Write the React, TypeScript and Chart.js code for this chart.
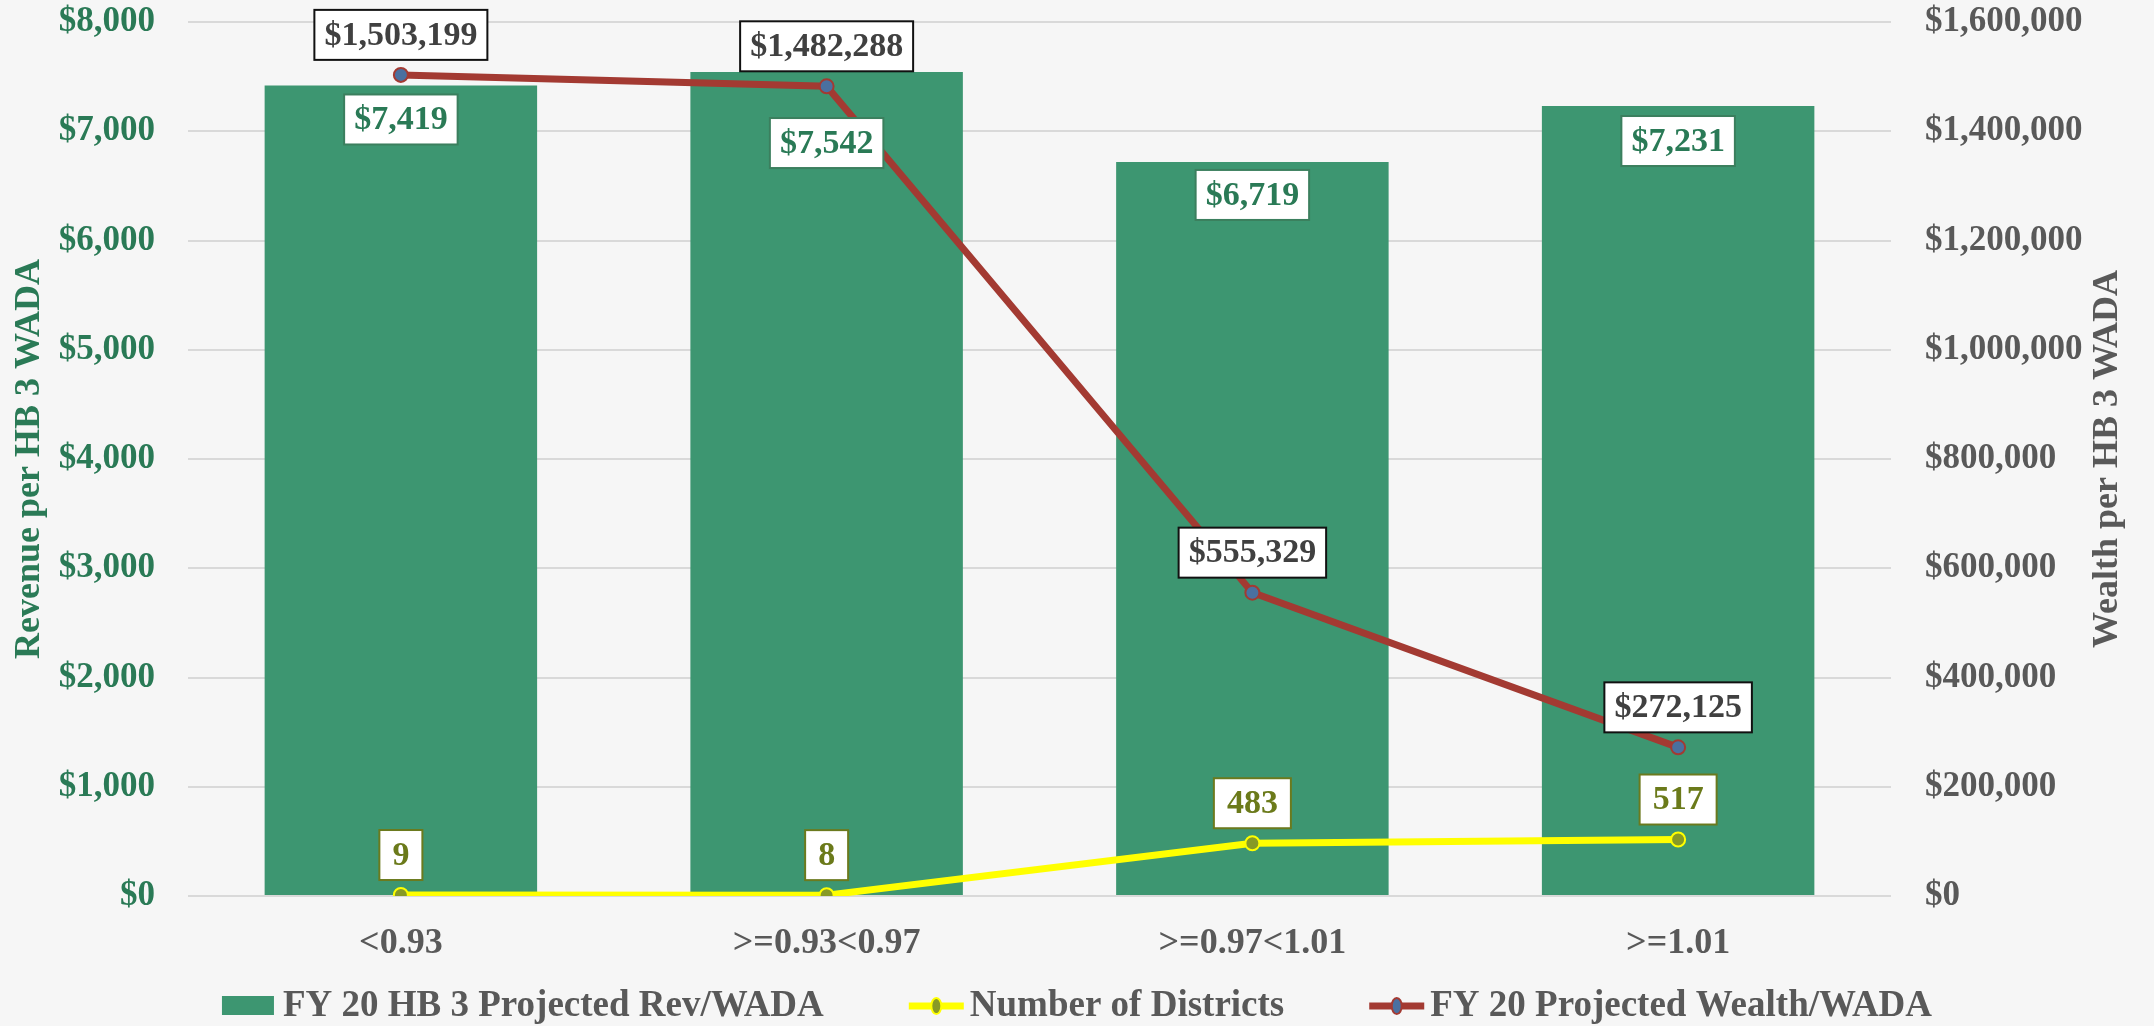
import React, { useEffect, useRef } from "react";
import { Chart, registerables } from "chart.js";

Chart.register(...registerables);

const categories = ["<0.93", ">=0.93<0.97", ">=0.97<1.01", ">=1.01"];
const revenuePerWada = [7419, 7542, 6719, 7231];
const numberOfDistricts = [9, 8, 483, 517];
const wealthPerWada = [1503199, 1482288, 555329, 272125];

const revenueLabel = "FY 20 HB 3 Projected Rev/WADA";
const districtsLabel = "Number of Districts";
const wealthLabel = "FY 20 Projected Wealth/WADA";
const leftTitle = "Revenue per HB 3 WADA";
const rightTitle = "Wealth per HB 3 WADA";

const W = 2154;
const H = 1026;
const FONT = "'Liberation Serif', 'Times New Roman', serif";
const GREEN_TEXT = "#2A7A56";
const GRAY_TEXT = "#595959";
const BAR_COLOR = "#3D9671";
const RED = "#A33A32";
const BLUE = "#4A70A0";
const YELLOW = "#FFFF00";
const OLIVE = "#879A26";
const BG = "#F6F6F6";
const BAR_LABEL_DROP = [34, 71, 33, 35];

const money = (v: number) => "$" + v.toLocaleString("en-US");

function drawBox(ctx: CanvasRenderingContext2D, text: string, cx: number, cy: number, pad: number, textColor: string, border: string) {
  ctx.save();
  ctx.font = `bold 34px ${FONT}`;
  const tw = ctx.measureText(text).width;
  const bw = tw + pad * 2;
  const bh = 50;
  ctx.fillStyle = "#FFFFFF";
  ctx.fillRect(cx - bw / 2, cy - bh / 2, bw, bh);
  ctx.lineWidth = 2;
  ctx.strokeStyle = border;
  ctx.strokeRect(cx - bw / 2, cy - bh / 2, bw, bh);
  ctx.fillStyle = textColor;
  ctx.textAlign = "center";
  ctx.textBaseline = "middle";
  ctx.fillText(text, cx, cy + 1);
  ctx.restore();
}

const customPlugin = {
  id: "customDraw",
  beforeDraw(chart: any) {
    const ctx = chart.ctx;
    ctx.save();
    ctx.fillStyle = BG;
    ctx.fillRect(0, 0, chart.width, chart.height);
    ctx.restore();
  },
  afterDatasetsDraw(chart: any) {
    const ctx = chart.ctx;
    const barMeta = chart.getDatasetMeta(0);
    barMeta.data.forEach((el: any, i: number) => {
      drawBox(ctx, money(revenuePerWada[i]), el.x, el.y + BAR_LABEL_DROP[i], 10, GREEN_TEXT, "#3B7F5E");
    });
    const distMeta = chart.getDatasetMeta(1);
    distMeta.data.forEach((el: any, i: number) => {
      drawBox(ctx, String(numberOfDistricts[i]), el.x, el.y - 40, 13, "#6B7A1A", "#6B7A1E");
    });
    const wMeta = chart.getDatasetMeta(2);
    wMeta.data.forEach((el: any, i: number) => {
      drawBox(ctx, money(wealthPerWada[i]), el.x, el.y - 40, 10, "#404040", "#111111");
    });
  },
  afterDraw(chart: any) {
    const ctx = chart.ctx;
    const area = chart.chartArea;
    const midY = (area.top + area.bottom) / 2;
    // axis titles
    ctx.save();
    ctx.font = `bold 36px ${FONT}`;
    ctx.textAlign = "center";
    ctx.textBaseline = "middle";
    ctx.fillStyle = GREEN_TEXT;
    ctx.translate(30, midY);
    ctx.rotate(-Math.PI / 2);
    ctx.fillText(leftTitle, 0, 0);
    ctx.restore();
    ctx.save();
    ctx.font = `bold 36px ${FONT}`;
    ctx.textAlign = "center";
    ctx.textBaseline = "middle";
    ctx.fillStyle = GRAY_TEXT;
    ctx.translate(2108, midY);
    ctx.rotate(-Math.PI / 2);
    ctx.fillText(rightTitle, 0, 0);
    ctx.restore();

    // legend
    ctx.save();
    ctx.font = `bold 37px ${FONT}`;
    const items = [
      { text: revenueLabel, kind: "bar" },
      { text: districtsLabel, kind: "dist" },
      { text: wealthLabel, kind: "wealth" },
    ];
    const symW = 55;
    const symGap = 6;
    const itemGap = 85;
    const widths = items.map((it) => symW + symGap + ctx.measureText(it.text).width);
    const total = widths.reduce((a, b) => a + b, 0) + itemGap * (items.length - 1);
    let x = (chart.width - total) / 2;
    const ly = 1006;
    items.forEach((it, i) => {
      if (it.kind === "bar") {
        ctx.fillStyle = BAR_COLOR;
        ctx.fillRect(x, ly - 10, 52, 19);
      } else {
        const lineColor = it.kind === "dist" ? YELLOW : RED;
        const fill = it.kind === "dist" ? OLIVE : BLUE;
        const stroke = it.kind === "dist" ? YELLOW : RED;
        ctx.strokeStyle = lineColor;
        ctx.lineWidth = 7;
        ctx.beginPath();
        ctx.moveTo(x, ly);
        ctx.lineTo(x + symW, ly);
        ctx.stroke();
        ctx.beginPath();
        ctx.ellipse(x + symW / 2, ly, 5, 8, 0, 0, Math.PI * 2);
        ctx.fillStyle = fill;
        ctx.fill();
        ctx.lineWidth = 2;
        ctx.strokeStyle = stroke;
        ctx.stroke();
      }
      ctx.fillStyle = GRAY_TEXT;
      ctx.textAlign = "left";
      ctx.textBaseline = "middle";
      ctx.fillText(it.text, x + symW + symGap, ly);
      x += widths[i] + itemGap;
    });
    ctx.restore();
  },
};

export default function App() {
  const ref = useRef<HTMLCanvasElement | null>(null);

  useEffect(() => {
    const canvas = ref.current;
    if (!canvas) return;
    const chart = new Chart(canvas, {
      type: "bar",
      data: {
        labels: categories,
        datasets: [
          {
            type: "bar",
            label: revenueLabel,
            data: revenuePerWada,
            backgroundColor: BAR_COLOR,
            barPercentage: 0.64,
            categoryPercentage: 1.0,
            yAxisID: "y",
            order: 3,
          },
          {
            type: "line",
            label: districtsLabel,
            data: numberOfDistricts,
            borderColor: YELLOW,
            borderWidth: 7,
            pointRadius: 7,
            pointBorderWidth: 2,
            pointBackgroundColor: OLIVE,
            pointBorderColor: YELLOW,
            tension: 0,
            yAxisID: "y",
            order: 2,
          },
          {
            type: "line",
            label: wealthLabel,
            data: wealthPerWada,
            borderColor: RED,
            borderWidth: 7,
            pointRadius: 7,
            pointBorderWidth: 2,
            pointBackgroundColor: BLUE,
            pointBorderColor: RED,
            tension: 0,
            yAxisID: "y1",
            order: 1,
          },
        ] as any,
      },
      options: {
        responsive: false,
        animation: false,
        devicePixelRatio: 1,
        layout: { padding: { top: 22, left: 0, right: 0, bottom: 0 } },
        plugins: {
          legend: { display: false },
          tooltip: { enabled: false },
          title: { display: false },
        },
        scales: {
          x: {
            grid: { display: false },
            border: { display: false },
            ticks: {
              color: GRAY_TEXT,
              font: { family: FONT, size: 36, weight: "bold" },
              padding: 18,
            },
            afterFit: (s: any) => {
              s.height = 130;
              s.paddingLeft = 0;
              s.paddingRight = 0;
            },
          },
          y: {
            position: "left",
            min: 0,
            max: 8000,
            ticks: {
              stepSize: 1000,
              color: GREEN_TEXT,
              font: { family: FONT, size: 35, weight: "bold" },
              padding: 33,
              callback: (v: any) => money(Number(v)),
            },
            grid: { color: "#D9D9D9", lineWidth: 2, drawTicks: false },
            border: { display: false },
            afterFit: (s: any) => {
              s.width = 188;
              s.paddingTop = 0;
              s.paddingBottom = 0;
            },
          },
          y1: {
            position: "right",
            min: 0,
            max: 1600000,
            ticks: {
              stepSize: 200000,
              color: GRAY_TEXT,
              font: { family: FONT, size: 35, weight: "bold" },
              padding: 34,
              callback: (v: any) => money(Number(v)),
            },
            grid: { drawOnChartArea: false, drawTicks: false },
            border: { display: false },
            afterFit: (s: any) => {
              s.width = 263;
              s.paddingTop = 0;
              s.paddingBottom = 0;
            },
          },
        },
      } as any,
      plugins: [customPlugin],
    });
    return () => chart.destroy();
  }, []);

  return (
    <div style={{ position: "absolute", left: 0, top: 0, width: W, height: H, background: BG }}>
      <canvas ref={ref} width={W} height={H} style={{ display: "block", width: W, height: H }} />
    </div>
  );
}
